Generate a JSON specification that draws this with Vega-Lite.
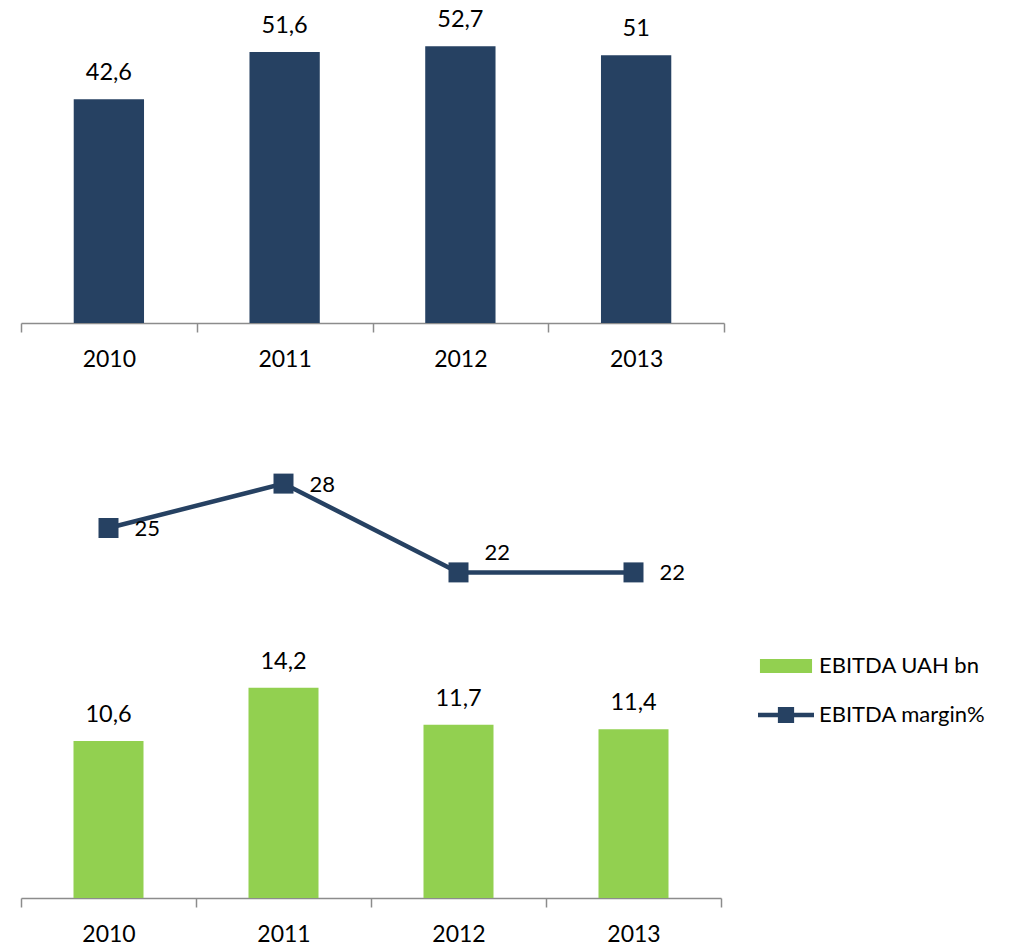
{
  "$schema": "https://vega.github.io/schema/vega-lite/v6.json",
  "background": "white",
  "padding": {"left": 20, "top": 8, "right": 0, "bottom": 0},
  "spacing": 83,
  "data": {"values": [
    {"year": "2010", "revenue": 42.6, "ebitda": 10.6, "margin": 25},
    {"year": "2011", "revenue": 51.6, "ebitda": 14.2, "margin": 28},
    {"year": "2012", "revenue": 52.7, "ebitda": 11.7, "margin": 22},
    {"year": "2013", "revenue": 51.0, "ebitda": 11.4, "margin": 22}
  ]},
  "resolve": {"scale": {"color": "independent"}, "legend": {"color": "independent"}},
  "vconcat": [
    {
      "width": 703,
      "height": 315,
      "layer": [
        {
          "mark": {"type": "bar", "color": "#264162", "width": {"band": 0.4}},
          "encoding": {
            "x": {"field": "year", "type": "nominal", "sort": null, "scale": {"paddingInner": 0, "paddingOuter": 0}},
            "y": {"field": "revenue", "type": "quantitative", "scale": {"domain": [0, 60], "nice": false}, "axis": null}
          }
        },
        {
          "mark": {"type": "text", "font": "Lato", "fontSize": 23.5, "color": "black", "baseline": "alphabetic", "dy": -19},
          "encoding": {
            "x": {"field": "year", "type": "nominal", "sort": null},
            "y": {"field": "revenue", "type": "quantitative"},
            "text": {"field": "revenue", "type": "quantitative", "format": "~g"}
          }
        }
      ]
    },
    {
      "width": 700,
      "height": 444,
      "layer": [
        {
          "mark": {"type": "bar", "width": {"band": 0.4}},
          "encoding": {
            "x": {"field": "year", "type": "nominal", "sort": null, "scale": {"paddingInner": 0, "paddingOuter": 0}},
            "y": {"field": "ebitda", "type": "quantitative", "scale": {"domain": [0, 30], "nice": false}, "axis": null},
            "color": {"datum": "EBITDA UAH bn", "type": "nominal",
              "scale": {"domain": ["EBITDA UAH bn", "EBITDA margin%"], "range": ["#92d050", "#264162"]},
              "legend": {
                "orient": "none", "legendX": 737, "legendY": 198, "title": null, "padding": 0,
                "symbolSize": 3136, "clipHeight": 28, "rowPadding": 21, "labelOffset": 5,
                "labelFont": "Lato", "labelFontSize": 22, "labelColor": "black", "labelLimit": 400,
                "encode": {"symbols": {"update": {
                  "shape": {"signal": "datum.value === 'EBITDA UAH bn' ? 'M-0.93,-0.25H0.93V0.25H-0.93Z' : 'M-1,-0.08H1V0.08H-1Z M-0.29,-0.29H0.29V0.29H-0.29Z'"},
                  "fill": {"signal": "datum.value === 'EBITDA UAH bn' ? '#92d050' : '#264162'"},
                  "stroke": {"value": null},
                  "strokeWidth": {"value": 0},
                  "opacity": {"value": 1},
                  "fillOpacity": {"value": 1}
                }}}
              }}
          }
        },
        {
          "mark": {"type": "text", "font": "Lato", "fontSize": 23.5, "color": "black", "baseline": "alphabetic", "dy": -19},
          "encoding": {
            "x": {"field": "year", "type": "nominal", "sort": null},
            "y": {"field": "ebitda", "type": "quantitative"},
            "text": {"field": "ebitda", "type": "quantitative", "format": "~g"}
          }
        },
        {
          "mark": {"type": "line", "strokeWidth": 4.5, "point": {"shape": "square", "size": 400, "filled": true, "opacity": 1}},
          "encoding": {
            "x": {"field": "year", "type": "nominal", "sort": null},
            "y": {"field": "margin", "type": "quantitative"},
            "color": {"datum": "EBITDA margin%", "type": "nominal"}
          }
        },
        {
          "transform": [{"filter": "datum.year !== '2012'"}],
          "mark": {"type": "text", "font": "Lato", "fontSize": 22, "color": "black", "align": "left", "baseline": "middle", "dx": 26, "dy": 1},
          "encoding": {
            "x": {"field": "year", "type": "nominal", "sort": null},
            "y": {"field": "margin", "type": "quantitative"},
            "text": {"field": "margin", "type": "quantitative", "format": "~g"}
          }
        },
        {
          "transform": [{"filter": "datum.year === '2012'"}],
          "mark": {"type": "text", "font": "Lato", "fontSize": 22, "color": "black", "align": "left", "baseline": "middle", "dx": 26, "dy": -19},
          "encoding": {
            "x": {"field": "year", "type": "nominal", "sort": null},
            "y": {"field": "margin", "type": "quantitative"},
            "text": {"field": "margin", "type": "quantitative", "format": "~g"}
          }
        }
      ]
    }
  ],
  "config": {
    "view": {"stroke": null},
    "locale": {"number": {"decimal": ",", "thousands": " ", "grouping": [3], "currency": ["", ""]}},
    "axisX": {
      "title": null, "grid": false, "labelAngle": 0, "tickBand": "extent",
      "tickSize": 9, "tickColor": "#8c8c8c", "tickWidth": 1.5,
      "domainColor": "#8c8c8c", "domainWidth": 1.5,
      "labelFont": "Lato", "labelFontSize": 23, "labelColor": "black",
      "labelBaseline": "alphabetic", "labelPadding": 34
    }
  }
}
